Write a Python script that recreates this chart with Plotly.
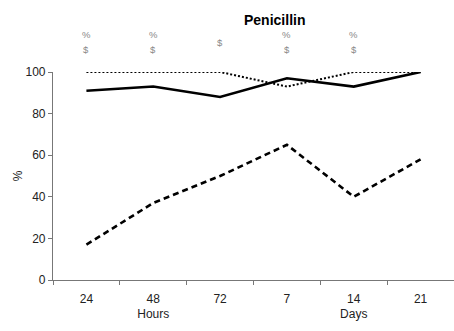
import plotly.graph_objects as go

# Time points (hours then days)
categories = ["24", "48", "72", "7", "14", "21"]
tick_labels = ["24", "48<br>Hours", "72", "7", "14<br>Days", "21"]

# Percentages per group
solid_vals = [91, 93, 88, 97, 93, 100]
dotted_vals = [100, 100, 100, 93, 100, 100]
dashed_vals = [17, 37, 50, 65, 40, 58]

# Significance markers shown above each time point
pct_marks = ["%", "%", "", "%", "%", ""]
dollar_marks = ["$", "$", "$", "$", "$", ""]

FONT = "Liberation Sans Narrow, Arial Narrow, Liberation Sans, Arial"
MARK_FONT = dict(size=9.5, color="#888888", family=FONT)

fig = go.Figure()
fig.add_trace(go.Scatter(x=categories, y=dotted_vals, mode="lines",
                         line=dict(color="black", width=2, dash="2px,2px"),
                         cliponaxis=False))
fig.add_trace(go.Scatter(x=categories, y=solid_vals, mode="lines",
                         line=dict(color="black", width=2.6),
                         cliponaxis=False))
fig.add_trace(go.Scatter(x=categories, y=dashed_vals, mode="lines",
                         line=dict(color="black", width=2.6, dash="6px,4px"),
                         cliponaxis=False))

annotations = []
for i, (p, d) in enumerate(zip(pct_marks, dollar_marks)):
    if p and d:
        annotations.append(dict(x=i, y=1.18, xref="x", yref="paper", text=p,
                                yanchor="middle", showarrow=False, font=MARK_FONT))
        annotations.append(dict(x=i, y=1.108, xref="x", yref="paper", text=d,
                                yanchor="middle", showarrow=False, font=MARK_FONT))
    elif d:
        annotations.append(dict(x=i, y=1.14, xref="x", yref="paper", text=d,
                                yanchor="middle", showarrow=False, font=MARK_FONT))

annotations.append(dict(x=0.553, y=1.25, xref="paper", yref="paper", text="<b>Penicillin</b>",
                        yanchor="middle", showarrow=False,
                        font=dict(size=14, color="black", family="Liberation Sans, Arial")))

fig.update_layout(
    width=454, height=331,
    margin=dict(l=53, r=0, t=72, b=51),
    plot_bgcolor="white", paper_bgcolor="white",
    showlegend=False,
    annotations=annotations,
    font=dict(family=FONT, size=12, color="#222"),
    xaxis=dict(type="category", categoryorder="array", categoryarray=categories,
               tickvals=categories, ticktext=tick_labels, tickson="boundaries",
               showline=True, linecolor="#777", linewidth=1.2,
               ticks="outside", ticklen=4, tickcolor="#777", ticklabelstandoff=7,
               showgrid=False, zeroline=False, range=[-0.5, 5.5]),
    yaxis=dict(range=[0, 100], tickvals=[0, 20, 40, 60, 80, 100],
               showline=True, linecolor="#777", linewidth=1.2,
               ticks="outside", ticklen=4, tickcolor="#777",
               showgrid=False, zeroline=False,
               title=dict(text="%", standoff=0, font=dict(size=12, color="#222"))),
)

fig.write_html("out.html")
